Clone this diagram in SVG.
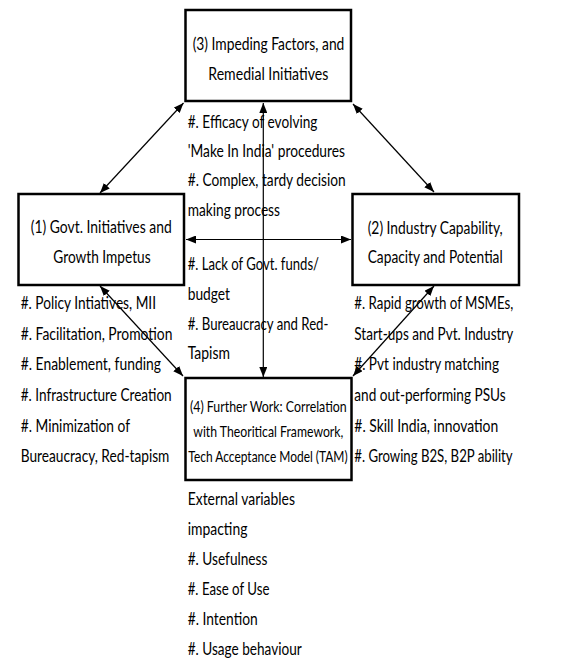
<svg xmlns="http://www.w3.org/2000/svg" width="572" height="659" viewBox="0 0 572 659">
<style>
.box{fill:#fff;stroke:#000;stroke-width:2.5}
.t{font-family:Lato,"Open Sans","Liberation Sans",sans-serif;font-size:18px;fill:#000}
.s{font-family:Lato,"Open Sans","Liberation Sans",sans-serif;font-size:16px;fill:#000}
.c{text-anchor:middle}
.ln{stroke:#000;stroke-width:1.2;fill:none;marker-start:url(#ah);marker-end:url(#ah)}
</style>
<defs>
<marker id="ah" viewBox="0 0 10 8" refX="10" refY="4" markerWidth="10" markerHeight="8" markerUnits="userSpaceOnUse" orient="auto-start-reverse">
<path d="M0,0 L10,4 L0,8 Z" fill="#000"/>
</marker>
</defs>
<rect width="572" height="659" fill="#fff"/>
<g id="connectors">
<line class="ln" x1="183.5" y1="103" x2="100" y2="193"/>
<line class="ln" x1="353" y1="104" x2="434" y2="192"/>
<line class="ln" x1="263.3" y1="103" x2="263.3" y2="377"/>
<line class="ln" x1="186" y1="239.5" x2="351" y2="239.5"/>
<line class="ln" x1="100" y1="286" x2="183" y2="376"/>
<line class="ln" x1="434" y1="286" x2="353" y2="376"/>
</g>
<g id="node3">
<rect class="box" x="185.5" y="10" width="165.5" height="91"/>
<text class="t c" x="268.5" y="50" textLength="151.7" lengthAdjust="spacingAndGlyphs">(3) Impeding Factors, and</text>
<text class="t c" x="268.3" y="80" textLength="120" lengthAdjust="spacingAndGlyphs">Remedial Initiatives</text>
</g>
<g id="node1">
<rect class="box" x="18.5" y="194" width="165.5" height="91"/>
<text class="t c" x="101.2" y="233" textLength="141" lengthAdjust="spacingAndGlyphs">(1) Govt. Initiatives and</text>
<text class="t c" x="102" y="263" textLength="97.3" lengthAdjust="spacingAndGlyphs">Growth Impetus</text>
</g>
<g id="node2">
<rect class="box" x="352.5" y="194" width="166.5" height="91"/>
<text class="t c" x="435.2" y="234" textLength="135" lengthAdjust="spacingAndGlyphs">(2) Industry Capability,</text>
<text class="t c" x="435.2" y="263" textLength="135" lengthAdjust="spacingAndGlyphs">Capacity and Potential</text>
</g>
<g id="node4">
<rect class="box" x="185.5" y="378" width="166" height="102"/>
<text class="s c" x="268.3" y="412" textLength="156.7" lengthAdjust="spacingAndGlyphs">(4) Further Work: Correlation</text>
<text class="s c" x="268.3" y="437" textLength="150" lengthAdjust="spacingAndGlyphs">with Theoritical Framework,</text>
<text class="s c" x="268" y="462" textLength="159.3" lengthAdjust="spacingAndGlyphs">Tech Acceptance Model (TAM)</text>
</g>
<g id="labels-mid">
<text class="t" x="187.7" y="128" textLength="129.7" lengthAdjust="spacingAndGlyphs">#. Efficacy of evolving</text>
<text class="t" x="187.7" y="157" textLength="157.3" lengthAdjust="spacingAndGlyphs">'Make In India' procedures</text>
<text class="t" x="187.7" y="185.5" textLength="158" lengthAdjust="spacingAndGlyphs">#. Complex, tardy decision</text>
<text class="t" x="187.7" y="215.5" textLength="92.3" lengthAdjust="spacingAndGlyphs">making process</text>
<text class="t" x="187.7" y="270" textLength="131.3" lengthAdjust="spacingAndGlyphs">#. Lack of Govt. funds/</text>
<text class="t" x="187.7" y="299.5" textLength="42.3" lengthAdjust="spacingAndGlyphs">budget</text>
<text class="t" x="187.7" y="329.5" textLength="140.7" lengthAdjust="spacingAndGlyphs">#. Bureaucracy and Red-</text>
<text class="t" x="187.7" y="358.5" textLength="42.3" lengthAdjust="spacingAndGlyphs">Tapism</text>
</g>
<g id="labels-left">
<text class="t" x="20.7" y="309" textLength="135.3" lengthAdjust="spacingAndGlyphs">#. Policy Intiatives, MII</text>
<text class="t" x="20.7" y="339.5" textLength="151.7" lengthAdjust="spacingAndGlyphs">#. Facilitation, Promotion</text>
<text class="t" x="20.7" y="370" textLength="140.3" lengthAdjust="spacingAndGlyphs">#. Enablement, funding</text>
<text class="t" x="20.7" y="401" textLength="151" lengthAdjust="spacingAndGlyphs">#. Infrastructure Creation</text>
<text class="t" x="20.7" y="431.5" textLength="109.3" lengthAdjust="spacingAndGlyphs">#. Minimization of</text>
<text class="t" x="20.7" y="462" textLength="148.7" lengthAdjust="spacingAndGlyphs">Bureaucracy, Red-tapism</text>
</g>
<g id="labels-right">
<text class="t" x="354.3" y="309" textLength="159" lengthAdjust="spacingAndGlyphs">#. Rapid growth of MSMEs,</text>
<text class="t" x="354.3" y="339.5" textLength="159" lengthAdjust="spacingAndGlyphs">Start-ups and Pvt. Industry</text>
<text class="t" x="354.3" y="370" textLength="144.7" lengthAdjust="spacingAndGlyphs">#. Pvt industry matching</text>
<text class="t" x="354.3" y="401" textLength="151.3" lengthAdjust="spacingAndGlyphs">and out-performing PSUs</text>
<text class="t" x="354.3" y="431.5" textLength="144" lengthAdjust="spacingAndGlyphs">#. Skill India, innovation</text>
<text class="t" x="354.3" y="462" textLength="158.3" lengthAdjust="spacingAndGlyphs">#. Growing B2S, B2P ability</text>
</g>
<g id="labels-bottom">
<text class="t" x="187.7" y="505" textLength="107.3" lengthAdjust="spacingAndGlyphs">External variables</text>
<text class="t" x="187.7" y="535" textLength="59.7" lengthAdjust="spacingAndGlyphs">impacting</text>
<text class="t" x="187.7" y="565" textLength="79.7" lengthAdjust="spacingAndGlyphs">#. Usefulness</text>
<text class="t" x="187.7" y="595" textLength="81.7" lengthAdjust="spacingAndGlyphs">#. Ease of Use</text>
<text class="t" x="187.7" y="625" textLength="70" lengthAdjust="spacingAndGlyphs">#. Intention</text>
<text class="t" x="187.7" y="655" textLength="114" lengthAdjust="spacingAndGlyphs">#. Usage behaviour</text>
</g>
</svg>
